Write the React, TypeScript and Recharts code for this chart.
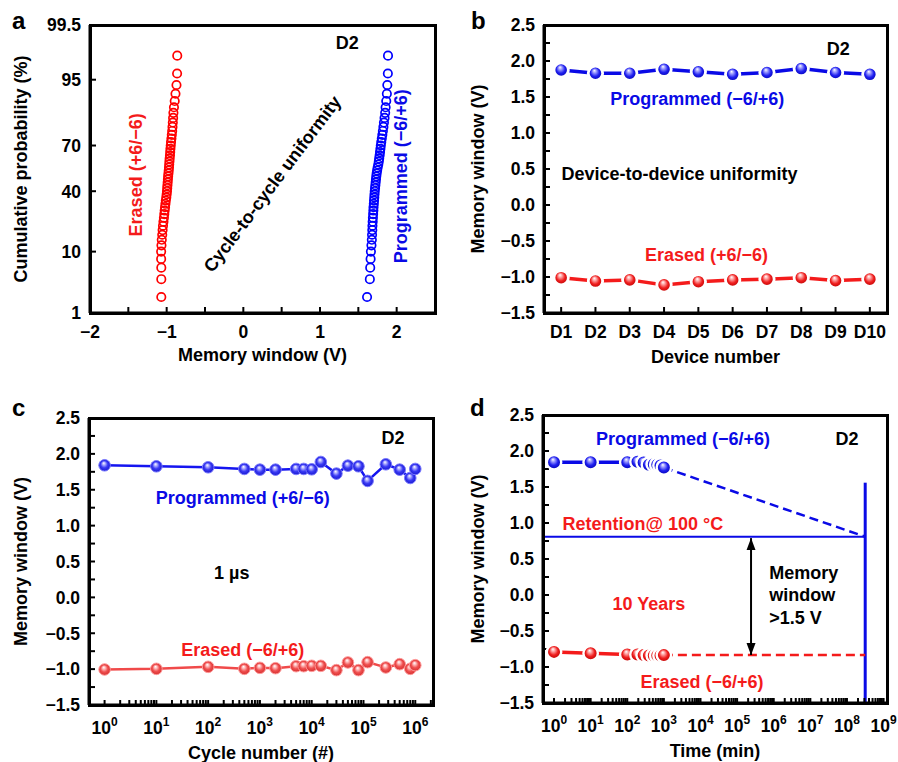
import React from 'react';
import { ComposedChart, Line, Scatter, XAxis, YAxis } from 'recharts';

const FONT = "'Liberation Sans', Arial, Helvetica, sans-serif";
const BLUE = '#0a0ae6';
const RED = '#f41b1b';
const TICK_FS = 17.5;
const NOTE_FS = 18;

// ---------- Panel a: cumulative probability ----------
const aProb = [2, 4, 6, 8, 10, 12, 14, 16, 18, 20, 22, 24, 26, 28, 30, 32, 34, 36, 38, 40, 42, 44, 46, 48, 50, 52, 54, 56, 58, 60, 62, 64, 66, 68, 70, 72, 74, 76, 78, 80, 82, 84, 86, 88, 90, 92, 94, 96, 98];
const aErased = [-1.070, -1.070, -1.070, -1.072, -1.072, -1.068, -1.064, -1.058, -1.053, -1.048, -1.042, -1.036, -1.031, -1.026, -1.021, -1.016, -1.011, -1.005, -1.000, -0.996, -0.993, -0.990, -0.987, -0.984, -0.981, -0.977, -0.973, -0.970, -0.967, -0.964, -0.961, -0.957, -0.954, -0.951, -0.947, -0.943, -0.938, -0.933, -0.928, -0.924, -0.920, -0.916, -0.912, -0.905, -0.895, -0.885, -0.872, -0.864, -0.862];
const aProgrammed = [1.614, 1.650, 1.655, 1.660, 1.664, 1.671, 1.676, 1.679, 1.682, 1.684, 1.687, 1.690, 1.693, 1.696, 1.698, 1.702, 1.705, 1.708, 1.711, 1.714, 1.718, 1.722, 1.726, 1.730, 1.734, 1.739, 1.745, 1.752, 1.760, 1.767, 1.772, 1.778, 1.783, 1.788, 1.793, 1.799, 1.806, 1.813, 1.820, 1.827, 1.834, 1.842, 1.850, 1.856, 1.864, 1.872, 1.878, 1.885, 1.887];
const aYTickLabels = [1, 10, 40, 70, 95, 99.5];
const aXTicks = [-2, -1.5, -1, -0.5, 0, 0.5, 1, 1.5, 2];
const aXLabels = [-2, -1, 0, 1, 2];
const aNotes = [
  { x: 1.355, p: 98.84, text: 'D2', color: '#000', angle: 0 },
  { x: -1.408, p: 51, text: 'Erased (+6/\u22126)', color: RED, angle: -90 },
  { x: 2.053, p: 50, text: 'Programmed (\u22126/+6)', color: BLUE, angle: -90 },
  { x: 0.375, p: 45, text: 'Cycle-to-cycle uniformity', color: '#000', angle: -53 },
];

// ---------- Panel b: device-to-device ----------
const bDevices = ['D1', 'D2', 'D3', 'D4', 'D5', 'D6', 'D7', 'D8', 'D9', 'D10'];
const bProgrammed = [1.875, 1.83, 1.83, 1.885, 1.85, 1.815, 1.84, 1.895, 1.84, 1.815];
const bErased = [-1.01, -1.056, -1.04, -1.11, -1.065, -1.04, -1.03, -1.01, -1.05, -1.03];
const bNotes = [
  { x: 9.08, y: 2.167, text: 'D2', color: '#000' },
  { x: 4.97, y: 1.472, text: 'Programmed (\u22126/+6)', color: BLUE },
  { x: 4.45, y: 0.444, text: 'Device-to-device uniformity', color: '#000' },
  { x: 5.24, y: -0.694, text: 'Erased (+6/\u22126)', color: RED },
];

// ---------- Panel c: endurance ----------
const cCycles = [1, 10, 100, 500, 1000, 2000, 5000, 7000, 10000, 15000, 30000, 50000, 80000, 120000, 270000, 500000, 800000, 1000000];
const cProgrammed = [1.841, 1.827, 1.813, 1.79, 1.78, 1.78, 1.79, 1.79, 1.785, 1.887, 1.725, 1.836, 1.827, 1.623, 1.855, 1.78, 1.664, 1.79];
const cErased = [-1.005, -0.996, -0.968, -0.996, -0.982, -0.987, -0.959, -0.959, -0.954, -0.954, -1.014, -0.907, -1.014, -0.903, -0.977, -0.931, -0.996, -0.945];
const cNotes = [
  { x: 370000, y: 2.231, text: 'D2', color: '#000' },
  { x: 467, y: 1.396, text: 'Programmed (+6/\u22126)', color: BLUE },
  { x: 286, y: 0.351, text: '1 \u00b5s', color: '#000' },
  { x: 467, y: -0.722, text: 'Erased (\u22126/+6)', color: RED },
];

// ---------- Panel d: retention ----------
const dTime = [1, 10, 100, 190, 280, 390, 530, 660, 810, 1000];
const dProgrammed = [1.845, 1.845, 1.845, 1.85, 1.84, 1.81, 1.815, 1.81, 1.80, 1.77];
const dErased = [-0.79, -0.81, -0.825, -0.825, -0.835, -0.84, -0.84, -0.84, -0.84, -0.835];
const dProgExtrapT = [1000, 3.15e8];
const dProgExtrapV = [1.77, 0.81];
const dEraExtrapT = [1000, 3.15e8];
const dEraExtrapV = [-0.835, -0.835];
const dThresholdT = [0.5, 3.15e8];
const dThresholdV = [0.81, 0.81];
const dTenYearsT = [3.15e8, 3.15e8];
const dTenYearsV = [-1.5, 1.56];
const dArrowT = [2.4e5, 2.4e5];
const dArrowV = [0.79, -0.833];
const dNotes = [
  { x: 3320, y: 2.18, text: 'Programmed (\u22126/+6)', color: BLUE },
  { x: 1.0e8, y: 2.18, text: 'D2', color: '#000' },
  { x: 267, y: 0.996, text: 'Retention@ 100 \u00b0C', color: RED },
  { x: 390, y: -0.118, text: '10 Years', color: RED },
  { x: 7.5e5, y: 0.0, text: 'Memory\nwindow\n>1.5 V', color: '#000', anchor: 'start' },
  { x: 11000, y: -1.205, text: 'Erased (\u22126/+6)', color: RED },
];

// ---------- shared ticks ----------
const mwTicks = [-1.5, -1.25, -1, -0.75, -0.5, -0.25, 0, 0.25, 0.5, 0.75, 1, 1.25, 1.5, 1.75, 2, 2.25, 2.5];
const cLogMajor = [1, 10, 100, 1e3, 1e4, 1e5, 1e6];
const dLogMajor = [1, 10, 100, 1e3, 1e4, 1e5, 1e6, 1e7, 1e8, 1e9];
const minorMultipliers = [2, 3, 4, 5, 6, 7, 8, 9];

function withMinors(majors: number[], max: number) {
  const out: number[] = [];
  majors.forEach((m) => {
    out.push(m);
    minorMultipliers.forEach((k) => {
      if (m * k <= max) out.push(m * k);
    });
  });
  return out;
}

function probit(p: number) {
  const a = [-3.969683028665376e1, 2.209460984245205e2, -2.759285104469687e2, 1.38357751867269e2, -3.066479806614716e1, 2.506628277459239];
  const b = [-5.447609879822406e1, 1.615858368580409e2, -1.556989798598866e2, 6.680131188771972e1, -1.328068155288572e1];
  const c = [-7.784894002430293e-3, -3.223964580411365e-1, -2.400758277161838, -2.549732539343734, 4.374664141464968, 2.938163982698783];
  const d = [7.784695709041462e-3, 3.224671290700398e-1, 2.445134137142996, 3.754408661907416];
  const pl = 0.02425;
  if (p < pl) {
    const q = Math.sqrt(-2 * Math.log(p));
    return (((((c[0] * q + c[1]) * q + c[2]) * q + c[3]) * q + c[4]) * q + c[5]) / ((((d[0] * q + d[1]) * q + d[2]) * q + d[3]) * q + 1);
  }
  if (p > 1 - pl) {
    const q = Math.sqrt(-2 * Math.log(1 - p));
    return -(((((c[0] * q + c[1]) * q + c[2]) * q + c[3]) * q + c[4]) * q + c[5]) / ((((d[0] * q + d[1]) * q + d[2]) * q + d[3]) * q + 1);
  }
  const q = p - 0.5;
  const r = q * q;
  return ((((((a[0] * r + a[1]) * r + a[2]) * r + a[3]) * r + a[4]) * r + a[5]) * q) / (((((b[0] * r + b[1]) * r + b[2]) * r + b[3]) * r + b[4]) * r + 1);
}

const zMin = probit(0.01);
const zMax = probit(0.995);
const aYTicks = aYTickLabels.map((v) => probit(v / 100));

const fmtNum = (v: number, digits: number) => v.toFixed(digits).replace('-', '\u2212');
const near = (a: number, b: number) => Math.abs(a - b) < 1e-6 * Math.max(1, Math.abs(b));
const mwFmt = (v: number) => (near(v * 2, Math.round(v * 2)) ? fmtNum(v, 1) : null);

// ---------- layout ----------
const Y_AXIS_W = 60;
const X_AXIS_H = 35;
type PanelLayout = {
  left: number; top: number; width: number; height: number;
  margin: { top: number; right: number; bottom: number; left: number };
  xDomain: [number, number]; yDomain: [number, number];
  xTicks: number[]; yTicks: number[];
};

const isAXMajor = (v: number) => aXLabels.some((l) => near(v, l));
const cXTicks = withMinors(cLogMajor, 2.2e6);
const dXTicks = withMinors(dLogMajor, 1.24e9);
const bXTicks = bDevices.map((_, i) => i + 1);

const LAYOUT: Record<string, PanelLayout> = {
  a: { left: 0, top: 0, width: 449, height: 380, margin: { top: 25, right: 14, bottom: 32, left: 30 },
    xDomain: [-2, 2.5], yDomain: [zMin, zMax], xTicks: aXTicks, yTicks: aYTicks },
  b: { left: 449, top: 0, width: 449, height: 380, margin: { top: 25, right: 11, bottom: 32, left: 35 },
    xDomain: [0.5, 10.5], yDomain: [-1.5, 2.5], xTicks: bXTicks, yTicks: mwTicks },
  c: { left: 0, top: 380, width: 449, height: 382, margin: { top: 38, right: 16, bottom: 22, left: 29 },
    xDomain: [0.5, 2.2e6], yDomain: [-1.5, 2.5], xTicks: cXTicks, yTicks: mwTicks },
  d: { left: 449, top: 380, width: 449, height: 382, margin: { top: 35, right: 11, bottom: 24, left: 34 },
    xDomain: [0.5, 1.24e9], yDomain: [-1.5, 2.5], xTicks: dXTicks, yTicks: mwTicks },
};

function plotRect(L: PanelLayout) {
  const x0 = L.left + L.margin.left + Y_AXIS_W;
  const x1 = L.left + L.width - L.margin.right;
  const y0 = L.top + L.margin.top;
  const y1 = L.top + L.height - L.margin.bottom - X_AXIS_H;
  return { x0, x1, y0, y1 };
}

// ---------- tick label renderers ----------
function leftTick(fmt: (v: number) => string | null) {
  return (p: any) => {
    const lab = fmt(p.payload.value);
    if (lab === null) return <g key={`lt${p.index}`} />;
    return (
      <text key={`lt${p.index}`} x={p.x - 9} y={p.y} dy="0.36em" textAnchor="end" fontSize={TICK_FS} fontWeight="bold" fontFamily={FONT} fill="#000">
        {lab}
      </text>
    );
  };
}

function bottomTick(fmt: (v: number) => string | null) {
  return (p: any) => {
    const lab = fmt(p.payload.value);
    if (lab === null) return <g key={`bt${p.index}`} />;
    return (
      <text key={`bt${p.index}`} x={p.x} y={p.y + 24.5} textAnchor="middle" fontSize={TICK_FS} fontWeight="bold" fontFamily={FONT} fill="#000">
        {lab}
      </text>
    );
  };
}

function logBottomTick(majors: number[]) {
  return (p: any) => {
    const v = p.payload.value;
    const isMajor = majors.some((m) => near(v, m));
    if (!isMajor) return <g key={`lg${p.index}`} />;
    const e = Math.round(Math.log10(v));
    return (
      <text key={`lg${p.index}`} x={p.x} y={p.y + 28.5} textAnchor="middle" fontSize={TICK_FS} fontWeight="bold" fontFamily={FONT} fill="#000">
        <tspan>10</tspan>
        <tspan dy={-8} fontSize={12}>{e}</tspan>
      </text>
    );
  };
}

// ---------- shapes ----------
const noteShape = (p: any) => {
  const d = p.payload || p;
  const cx = p.cx;
  const cy = p.cy;
  const lines = String(d.text).split('\n');
  const lh = 22.5;
  const y0 = cy - ((lines.length - 1) * lh) / 2;
  const anchor = d.anchor || 'middle';
  return (
    <text x={cx} y={y0} textAnchor={anchor} fill={d.color} fontSize={NOTE_FS} fontWeight="bold" fontFamily={FONT}
      transform={d.angle ? `rotate(${d.angle} ${cx} ${cy})` : undefined}>
      {lines.map((l, i) => (
        <tspan key={i} x={cx} dy={i === 0 ? '0.36em' : lh}>
          {l}
        </tspan>
      ))}
    </text>
  );
};

const hollow = (color: string) => (p: any) => (
  <circle cx={p.cx} cy={p.cy} r={4.2} fill="none" stroke={color} strokeWidth={1.7} />
);

const ball = (grad: string, r: number, ring: string, ringW: number) => (p: any) => (
  <circle key={`b${p.index}`} cx={p.cx} cy={p.cy} r={r} fill={`url(#${grad})`} stroke={ring} strokeWidth={ringW} />
);

const arrowDot = (p: any) => {
  const { cx, cy, index } = p;
  const dir = index === 0 ? 1 : -1;
  return (
    <polygon key={`ar${index}`} points={`${cx},${cy} ${cx - 4.5},${cy + dir * 12} ${cx + 4.5},${cy + dir * 12}`} fill="#000" />
  );
};

const pairs = (xs: number[], ys: number[]) => xs.map((x, i) => ({ x, y: ys[i] }));

// native axis line + inward ticks (negative tick size); labels drawn by the custom tick renderers
const axisCommon = {
  interval: 0 as const,
  axisLine: { stroke: '#000', strokeWidth: 3 },
  tickLine: { stroke: '#000', strokeWidth: 2 },
  tickSize: -6,
  tickMargin: 6,
};

// ---------- panels ----------
function PanelA() {
  const L = LAYOUT.a;
  const erased = aErased.map((x, i) => ({ x, y: probit(aProb[i] / 100) }));
  const programmed = aProgrammed.map((x, i) => ({ x, y: probit(aProb[i] / 100) }));
  const notes = aNotes.map((n) => ({ ...n, y: probit(n.p / 100) }));
  return (
    <ComposedChart width={L.width} height={L.height} margin={L.margin}>
      <XAxis type="number" dataKey="x" domain={L.xDomain} ticks={L.xTicks} {...axisCommon} height={X_AXIS_H}
        tick={bottomTick((v) => (isAXMajor(v) ? fmtNum(v, 0) : null))} />
      <YAxis type="number" dataKey="y" domain={L.yDomain} ticks={L.yTicks} {...axisCommon} width={Y_AXIS_W}
        tick={leftTick((v) => {
          const i = aYTicks.findIndex((t) => Math.abs(t - v) < 1e-6);
          return i >= 0 ? String(aYTickLabels[i]) : null;
        })} />
      <Scatter data={erased} dataKey="y" shape={hollow('#ff0000')} isAnimationActive={false} />
      <Scatter data={programmed} dataKey="y" shape={hollow('#0000ff')} isAnimationActive={false} />
      <Scatter data={notes} dataKey="y" shape={noteShape} isAnimationActive={false} />
    </ComposedChart>
  );
}

function PanelB() {
  const L = LAYOUT.b;
  const prog = bProgrammed.map((y, i) => ({ x: i + 1, y }));
  const era = bErased.map((y, i) => ({ x: i + 1, y }));
  return (
    <ComposedChart width={L.width} height={L.height} margin={L.margin}>
      <XAxis type="number" dataKey="x" domain={L.xDomain} ticks={L.xTicks} {...axisCommon} height={X_AXIS_H}
        tick={bottomTick((v) => bDevices[Math.round(v) - 1] ?? null)} />
      <YAxis type="number" dataKey="y" domain={L.yDomain} ticks={L.yTicks} {...axisCommon} width={Y_AXIS_W}
        tick={leftTick(mwFmt)} />
      <Line data={prog} dataKey="y" stroke={BLUE} strokeWidth={3.5} dot={ball('blueBall', 7.2, '#fff', 2.8)} activeDot={false} isAnimationActive={false} />
      <Line data={era} dataKey="y" stroke={RED} strokeWidth={3.5} dot={ball('redBall', 7.2, '#fff', 2.8)} activeDot={false} isAnimationActive={false} />
      <Scatter data={bNotes} dataKey="y" shape={noteShape} isAnimationActive={false} />
    </ComposedChart>
  );
}

function PanelC() {
  const L = LAYOUT.c;
  const prog = pairs(cCycles, cProgrammed);
  const era = pairs(cCycles, cErased);
  return (
    <ComposedChart width={L.width} height={L.height} margin={L.margin}>
      <XAxis type="number" dataKey="x" scale="log" domain={L.xDomain} ticks={L.xTicks} {...axisCommon} tickSize={-5} tickMargin={5} height={X_AXIS_H}
        tick={logBottomTick(cLogMajor)} />
      <YAxis type="number" dataKey="y" domain={L.yDomain} ticks={L.yTicks} {...axisCommon} width={Y_AXIS_W}
        tick={leftTick(mwFmt)} />
      <Line data={prog} dataKey="y" stroke="#1515f0" strokeWidth={2.5} dot={ball('cBlueBall', 5.8, '#7a7aff', 1)} activeDot={false} isAnimationActive={false} />
      <Line data={era} dataKey="y" stroke="#f04a4a" strokeWidth={2.5} dot={ball('cRedBall', 5.8, '#ff9a9a', 1)} activeDot={false} isAnimationActive={false} />
      <Scatter data={cNotes} dataKey="y" shape={noteShape} isAnimationActive={false} />
    </ComposedChart>
  );
}

function PanelD() {
  const L = LAYOUT.d;
  const prog = pairs(dTime, dProgrammed);
  const era = pairs(dTime, dErased);
  return (
    <ComposedChart width={L.width} height={L.height} margin={L.margin}>
      <XAxis type="number" dataKey="x" scale="log" domain={L.xDomain} ticks={L.xTicks} {...axisCommon} tickSize={-5} tickMargin={5} height={X_AXIS_H}
        tick={logBottomTick(dLogMajor)} />
      <YAxis type="number" dataKey="y" domain={L.yDomain} ticks={L.yTicks} {...axisCommon} width={Y_AXIS_W}
        tick={leftTick(mwFmt)} />
      <Line data={pairs(dThresholdT, dThresholdV)} dataKey="y" stroke={BLUE} strokeWidth={2} dot={false} activeDot={false} isAnimationActive={false} />
      <Line data={pairs(dTenYearsT, dTenYearsV)} dataKey="y" stroke={BLUE} strokeWidth={3} dot={false} activeDot={false} isAnimationActive={false} />
      <Line data={pairs(dProgExtrapT, dProgExtrapV)} dataKey="y" stroke={BLUE} strokeWidth={2.5} strokeDasharray="9 5" dot={false} activeDot={false} isAnimationActive={false} />
      <Line data={pairs(dEraExtrapT, dEraExtrapV)} dataKey="y" stroke={RED} strokeWidth={2.5} strokeDasharray="9 5" dot={false} activeDot={false} isAnimationActive={false} />
      <Line data={pairs(dArrowT, dArrowV)} dataKey="y" stroke="#000" strokeWidth={2} dot={arrowDot} activeDot={false} isAnimationActive={false} />
      <Line data={prog} dataKey="y" stroke={BLUE} strokeWidth={3.5} dot={ball('blueBall', 7.2, '#fff', 2.4)} activeDot={false} isAnimationActive={false} />
      <Line data={era} dataKey="y" stroke={RED} strokeWidth={3.5} dot={ball('redBall', 7.2, '#fff', 2.4)} activeDot={false} isAnimationActive={false} />
      <Scatter data={dNotes} dataKey="y" shape={noteShape} isAnimationActive={false} />
    </ComposedChart>
  );
}

// ---------- plot frame boxes (full rectangle around each plot) ----------
function frameStyle(k: string) {
  const { x0, x1, y0, y1 } = plotRect(LAYOUT[k]);
  return {
    position: 'absolute' as const,
    left: x0 - 1.5,
    top: y0 - 1.5,
    width: x1 - x0 - 3,
    height: y1 - y0 - 3,
    border: '3px solid #000',
  };
}

const titleStyle = { fontSize: 18, fontWeight: 'bold' as const, fontFamily: FONT, fill: '#000' };

function Overlay() {
  const yTitle = (text: string, cx: number, cy: number) => (
    <text x={cx} y={cy} dy="0.36em" textAnchor="middle" transform={`rotate(-90 ${cx} ${cy})`} {...titleStyle}>
      {text}
    </text>
  );
  const xTitle = (text: string, cx: number, baseline: number) => (
    <text x={cx} y={baseline} textAnchor="middle" {...titleStyle}>
      {text}
    </text>
  );
  const letter = (t: string, x: number, y: number) => (
    <text x={x} y={y} fontSize={24} fontWeight="bold" fontFamily={FONT} fill="#000">
      {t}
    </text>
  );
  return (
    <svg width={898} height={762} style={{ position: 'absolute', left: 0, top: 0, pointerEvents: 'none' }}>
      {letter('a', 12, 29)}
      {letter('b', 471, 29)}
      {letter('c', 12, 416)}
      {letter('d', 470, 416)}
      {yTitle('Cumulative probability (%)', 21, 169)}
      {xTitle('Memory window (V)', 262.5, 361)}
      {yTitle('Memory window (V)', 478, 169)}
      {xTitle('Device number', 715.5, 363)}
      {yTitle('Memory window (V)', 21, 561.5)}
      {xTitle('Cycle number (#)', 261, 759)}
      {yTitle('Memory window (V)', 478, 559)}
      {xTitle('Time (min)', 715, 757)}
    </svg>
  );
}

function Defs() {
  const grad = (id: string, stops: [number, string][]) => (
    <radialGradient id={id} cx="0.5" cy="0.5" r="0.5" fx="0.42" fy="0.3">
      {stops.map(([o, c], i) => (
        <stop key={i} offset={o} stopColor={c} />
      ))}
    </radialGradient>
  );
  return (
    <svg width={0} height={0} style={{ position: 'absolute' }}>
      <defs>
        {grad('blueBall', [[0, '#ffffff'], [0.22, '#a8a8ff'], [0.6, '#2020f0'], [1, '#0000b0']])}
        {grad('redBall', [[0, '#ffffff'], [0.22, '#ffb0b0'], [0.6, '#f02020'], [1, '#b80000']])}
        {grad('cBlueBall', [[0, '#ffffff'], [0.22, '#b8b8ff'], [0.6, '#3a3af5'], [1, '#1a1ad0']])}
        {grad('cRedBall', [[0, '#ffffff'], [0.22, '#ffc4c4'], [0.6, '#f05050'], [1, '#d63030']])}
      </defs>
    </svg>
  );
}

export default function App() {
  const pos = (k: string) => ({ position: 'absolute' as const, left: LAYOUT[k].left, top: LAYOUT[k].top });
  return (
    <div style={{ position: 'absolute', left: 0, top: 0, width: 898, height: 762, background: '#fff', fontFamily: FONT, overflow: 'hidden' }}>
      <Defs />
      <div style={pos('a')}>
        <PanelA />
      </div>
      <div style={pos('b')}>
        <PanelB />
      </div>
      <div style={pos('c')}>
        <PanelC />
      </div>
      <div style={pos('d')}>
        <PanelD />
      </div>
      <div style={frameStyle('a')} />
      <div style={frameStyle('b')} />
      <div style={frameStyle('c')} />
      <div style={frameStyle('d')} />
      <Overlay />
    </div>
  );
}
